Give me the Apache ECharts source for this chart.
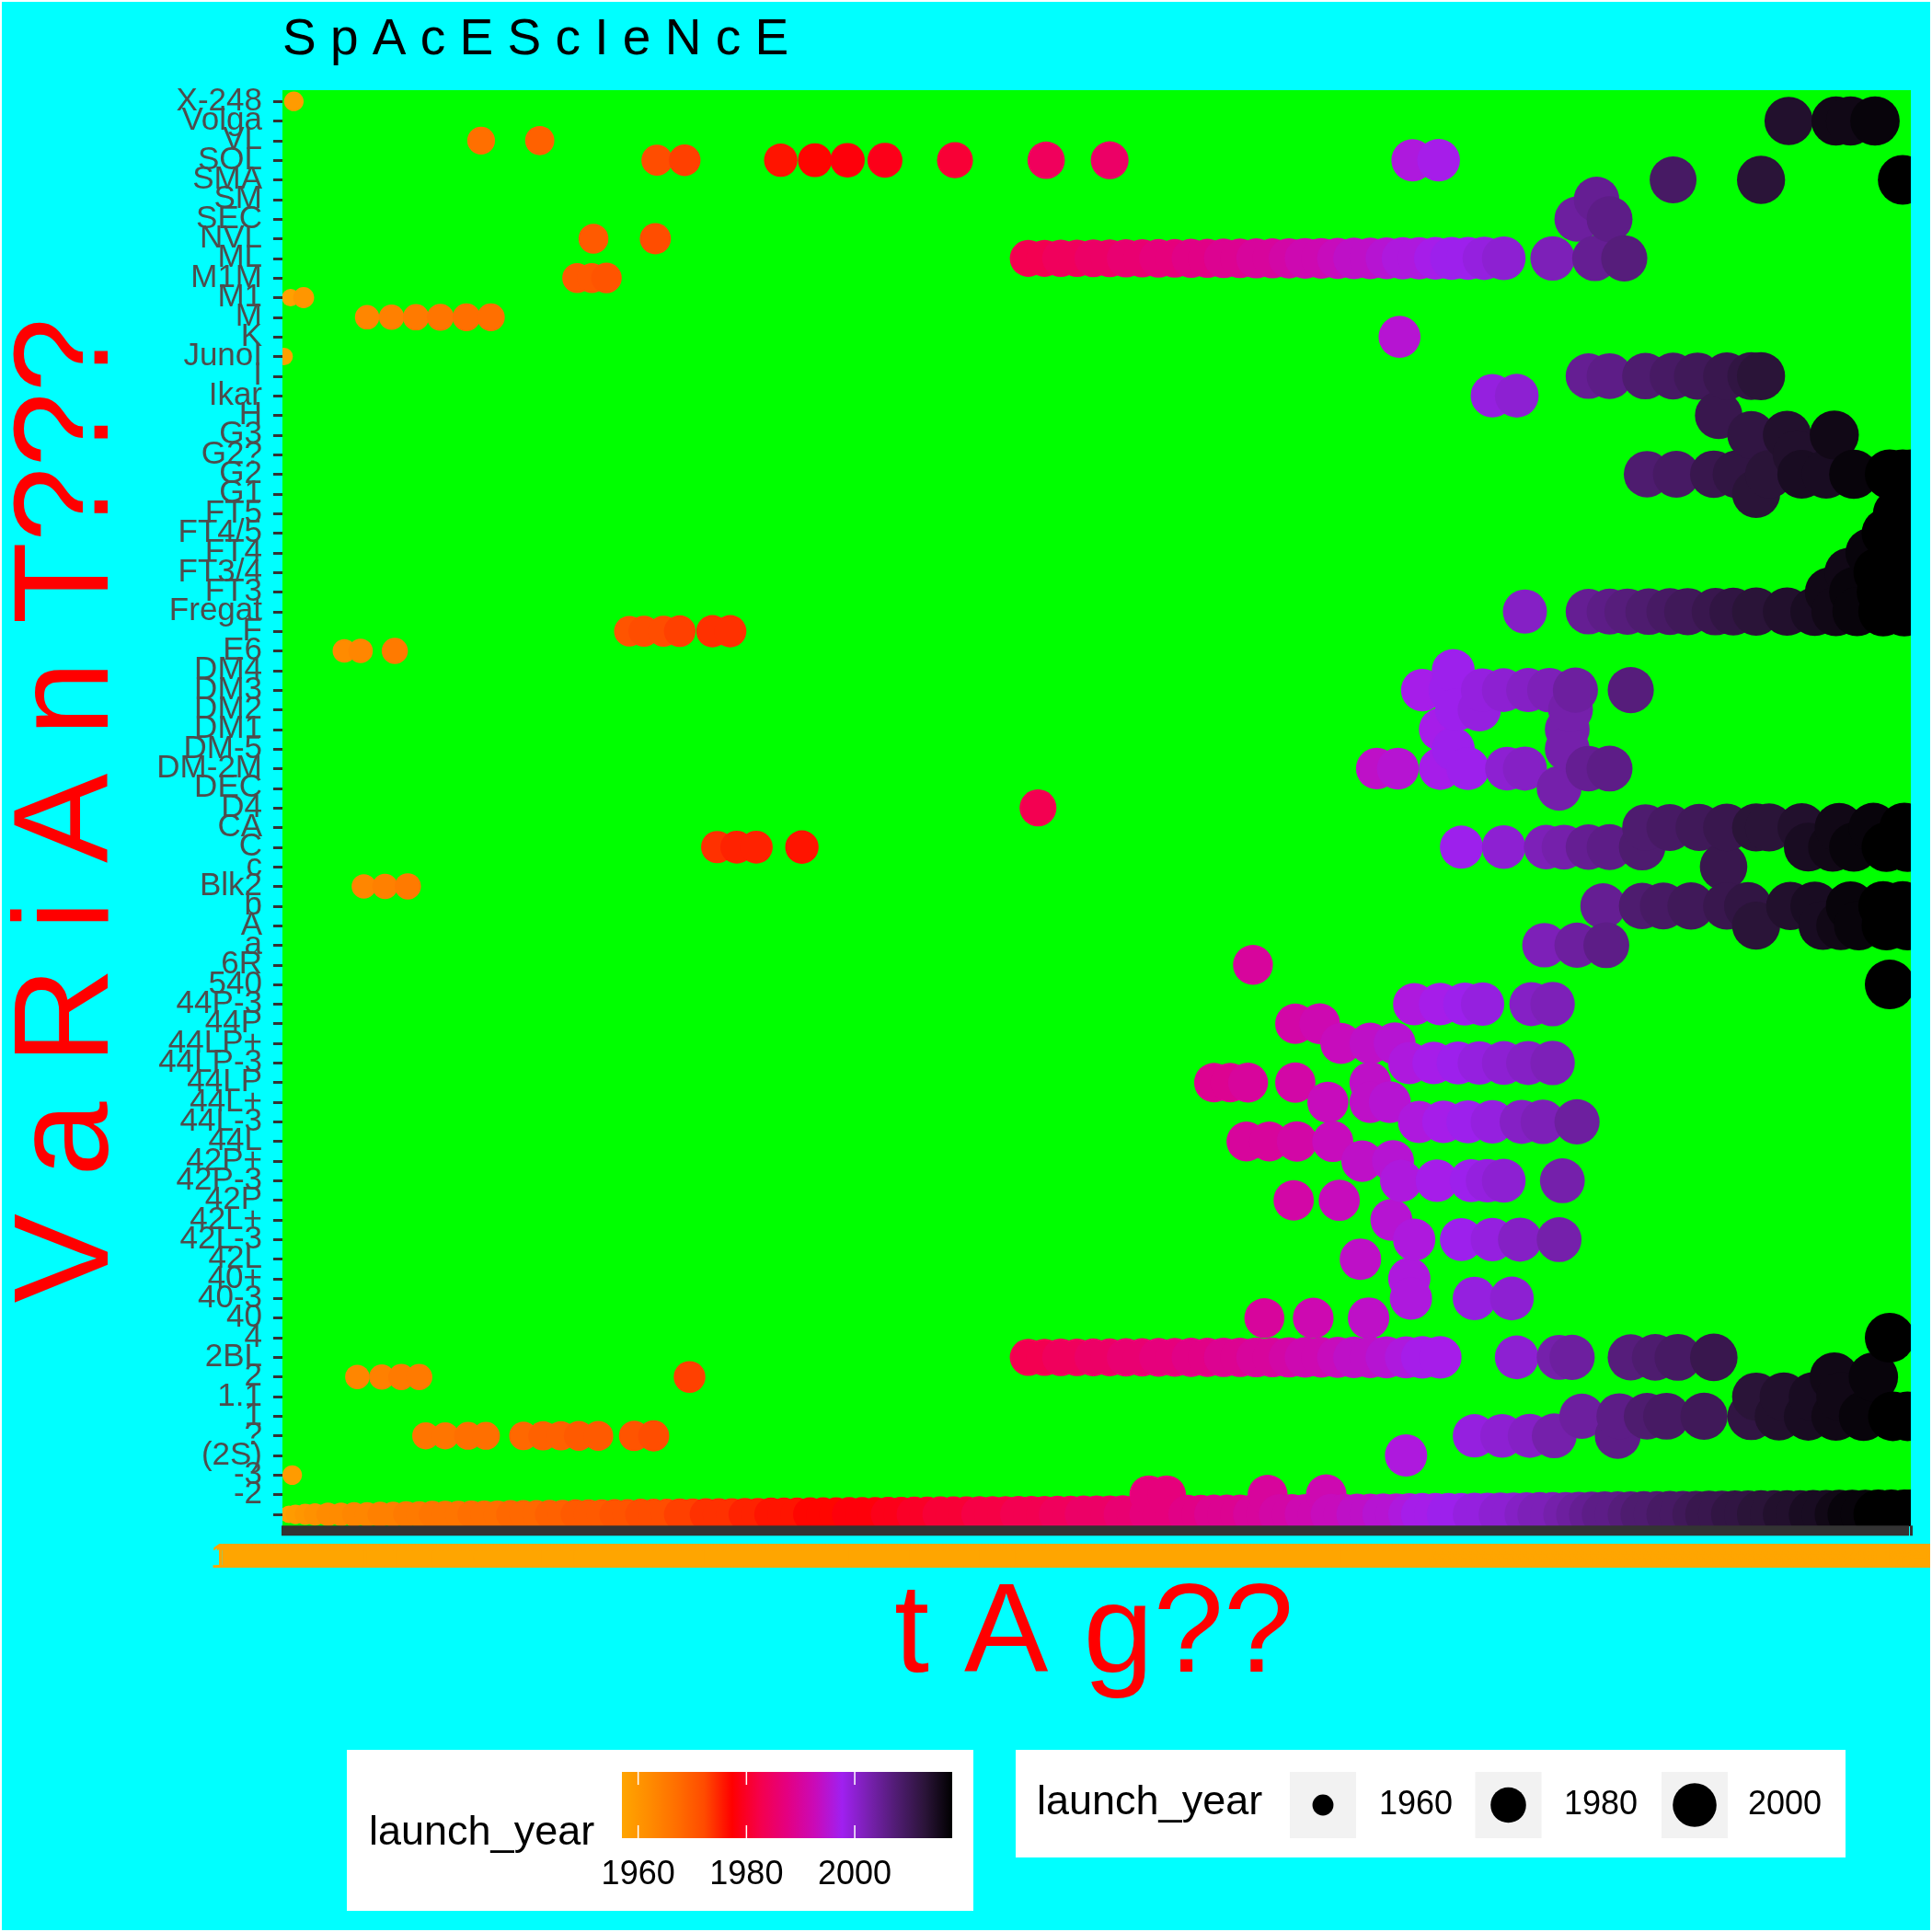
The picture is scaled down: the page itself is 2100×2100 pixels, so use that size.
<!DOCTYPE html>
<html><head><meta charset="utf-8">
<script src="https://cdn.jsdelivr.net/npm/echarts@6/dist/echarts.min.js"></script>
<style>html,body{margin:0;padding:0;background:#00FFFF}#c{width:2100px;height:2100px}</style>
</head><body><div id="c"></div>
<script>
const FONT = '"Liberation Sans", Arial, Helvetica, sans-serif';

// y categories (variant), bottom -> top
const variants = ["", "-2", "-3", "(2S)", "?", "1", "1.1", "2", "2BL", "4", "40", "40-3", "40+", "42L", "42L-3", "42L+", "42P", "42P-3", "42P+", "44L", "44L-3", "44L+", "44LP", "44LP-3", "44LP+", "44P", "44P-3", "540", "6R", "a", "A", "b", "Blk2", "c", "C", "CA", "D4", "DEC", "DM-2M", "DM-5", "DM1", "DM2", "DM3", "DM4", "E6", "F", "Fregat", "FT3", "FT3/4", "FT4", "FT4/5", "FT5", "G1", "G2", "G2?", "G3", "H", "Ikar", "I", "JunoI", "K", "M", "M1", "M1M", "ML", "NVL", "SEC", "SM", "SMA", "SOL", "VL", "Volga", "X-248"];

// colour scale (orange -> red -> purple -> black, Lab-interpolated stops)
const yearColors = ['#FFA500','#FF8B00','#FF6E00','#FF4B00','#FF0000','#F5004B','#E40081','#CA0AB7','#A020F0','#7720AE','#4F1C71','#2B1439','#000000'];
const yearMin = 1957, yearMax = 2018;
const legendYears = [1960, 1980, 2000];

// tag order (per-mille position along the x axis) at which each launch year starts
const tagYearStarts = [[1957,0],[1958,0.5],[1959,5.5],[1960,9.4],[1961,16.4],[1962,25.6],[1963,40.1],[1964,52.9],[1965,68.3],[1966,88.3],[1967,110.5],[1968,135.5],[1969,157.8],[1970,177.4],[1971,197.6],[1972,218.8],[1973,237.5],[1974,257.7],[1975,277],[1976,299.1],[1977,321.7],[1978,343.7],[1979,365.6],[1980,384.3],[1981,402.9],[1982,424.7],[1983,446],[1984,468.5],[1985,491.3],[1986,512.7],[1987,531],[1988,550.4],[1989,570.9],[1990,588.8],[1991,609.3],[1992,624.9],[1993,641.7],[1994,655.6],[1995,672.1],[1996,686.2],[1997,699.8],[1998,715.6],[1999,730.1],[2000,743.9],[2001,758.9],[2002,769.4],[2003,780.9],[2004,792],[2005,801.6],[2006,811.3],[2007,823],[2008,835],[2009,847.2],[2010,861],[2011,874.1],[2012,889],[2013,902.7],[2014,917],[2015,933.3],[2016,948.7],[2017,963.7],[2018,979.8]];

// [tag position, launch_year] for the blank variant ""
const blankRow = [[0,1957],[4,1958],[8,1959],[14,1960],[20,1961],[28,1962],[36,1962],[44,1963],[52,1963],[60,1964],[68,1964],[76,1965],[84,1965],[92,1966],[100,1966],[108,1966],[116,1967],[124,1967],[132,1967],[140,1968],[148,1968],[156,1968],[164,1969],[172,1969],[180,1970],[188,1970],[196,1970],[204,1971],[212,1971],[220,1972],[228,1972],[236,1972],[244,1973],[252,1973],[260,1974],[268,1974],[276,1974],[284,1975],[292,1975],[300,1976],[308,1976],[316,1976],[324,1977],[332,1977],[340,1977],[348,1978],[356,1978],[364,1978],[372,1979],[380,1979],[388,1980],[396,1980],[404,1981],[412,1981],[420,1981],[428,1982],[436,1982],[444,1982],[452,1983],[460,1983],[468,1983],[476,1984],[484,1984],[492,1985],[500,1985],[508,1985],[516,1986],[524,1986],[532,1987],[540,1987],[548,1987],[556,1988],[564,1988],[572,1989],[580,1989],[588,1989],[596,1990],[604,1990],[612,1991],[620,1991],[628,1992],[636,1992],[644,1993],[652,1993],[660,1994],[668,1994],[676,1995],[684,1995],[692,1996],[700,1997],[708,1997],[716,1998],[724,1998],[732,1999],[740,1999],[748,2000],[756,2000],[764,2001],[772,2002],[780,2002],[788,2003],[796,2004],[804,2005],[812,2006],[820,2006],[828,2007],[836,2008],[844,2008],[852,2009],[860,2009],[868,2010],[876,2011],[884,2011],[892,2012],[900,2012],[908,2013],[916,2013],[924,2014],[932,2014],[940,2015],[948,2015],[956,2016],[964,2017],[972,2017],[980,2018],[988,2018],[996,2018],[1000,2018]];

// upper variants: [variant, [[tag position, launch_year], ...]]
const rowsUpper = [
 ["X-248", [[7,1959]]],
 ["Volga", [[925,2014],[954,2016],[963,2016],[978,2017]]],
 ["VL", [[122,1967],[158,1969]]],
 ["SOL", [[230,1972],[247,1973],[306,1976],[327,1977],[347,1978],[370,1979],[413,1981],[469,1984],[508,1985],[694,1996],[710,1997]]],
 ["SMA", [[854,2009],[908,2013],[995,2018]]],
 ["SM", [[807,2005]]],
 ["SEC", [[795,2004],[815,2006]]],
 ["NVL", [[191,1970],[229,1972]]],
 ["ML", [[458,1983],[468,1983],[478,1984],[488,1984],[498,1985],[508,1985],[518,1986],[528,1986],[538,1987],[548,1987],[558,1988],[568,1988],[578,1989],[588,1989],[598,1990],[608,1990],[618,1991],[628,1992],[638,1992],[648,1993],[658,1994],[668,1994],[678,1995],[688,1996],[698,1996],[708,1997],[718,1998],[728,1998],[738,1999],[750,2000],[780,2002],[806,2005],[824,2007]]],
 ["M1M", [[181,1970],[190,1970],[199,1971]]],
 ["M1", [[5,1958],[13,1960]]],
 ["M", [[52,1963],[67,1964],[82,1965],[97,1966],[113,1967],[128,1967]]],
 ["K", [[686,1995]]],
 ["JunoI", [[1,1958]]],
 ["I", [[802,2005],[815,2006],[837,2008],[854,2009],[869,2010],[887,2011],[902,2012],[908,2013]]],
 ["Ikar", [[743,1999],[758,2000]]],
 ["H", [[882,2011]]],
 ["G3", [[902,2012],[924,2014],[953,2016]]],
 ["G2?", [[930,2014]]],
 ["G2", [[838,2008],[856,2009],[879,2011],[893,2012],[913,2013],[933,2015],[948,2015],[965,2017],[987,2018],[995,2018],[1000,2018]]],
 ["G1", [[905,2013]]],
 ["FT5", [[992,2018]]],
 ["FT4/5", [[985,2018]]],
 ["FT4", [[975,2017],[992,2018]]],
 ["FT3/4", [[962,2016],[980,2018],[998,2018]]],
 ["FT3", [[950,2016],[965,2017],[982,2018],[998,2018]]],
 ["Fregat", [[763,2001],[802,2005],[815,2006],[826,2007],[839,2008],[852,2009],[863,2010],[880,2011],[891,2012],[905,2013],[924,2014],[941,2015],[954,2016],[967,2017],[983,2018],[996,2018]]],
 ["F", [[213,1971],[222,1972],[234,1972],[244,1973],[264,1974],[275,1974]]],
 ["E6", [[38,1962],[48,1963],[69,1965]]]
];

// middle variants
const rowsMiddle = [
 ["DM4", [[719,1998]]],
 ["DM3", [[700,1997],[717,1998],[737,1999],[750,2000],[765,2001],[778,2002],[794,2004],[828,2007]]],
 ["DM2", [[721,1998],[735,1999],[791,2003]]],
 ["DM1", [[711,1997],[789,2003]]],
 ["DM-5", [[719,1998],[789,2003]]],
 ["DM-2M", [[672,1994],[685,1995],[711,1997],[728,1998],[752,2000],[763,2001],[802,2005],[815,2006]]],
 ["DEC", [[784,2003]]],
 ["D4", [[464,1983]]],
 ["CA", [[837,2008],[852,2009],[870,2010],[887,2011],[905,2013],[913,2013],[933,2014],[956,2016],[977,2017],[996,2018]]],
 ["C", [[267,1974],[279,1975],[291,1975],[319,1976],[724,1998],[750,2000],[776,2002],[787,2003],[802,2005],[815,2006],[835,2008],[937,2015],[952,2016],[965,2017],[985,2018],[998,2018]]],
 ["c", [[885,2011]]],
 ["Blk2", [[50,1963],[63,1964],[77,1965]]],
 ["b", [[811,2005],[835,2008],[848,2009],[865,2010],[887,2011],[900,2012],[926,2014],[941,2015],[963,2017],[983,2018],[995,2018]]],
 ["A", [[905,2013],[946,2015],[957,2016],[968,2017],[985,2018],[998,2018]]],
 ["a", [[775,2002],[795,2004],[813,2006]]],
 ["6R", [[596,1990]]],
 ["540", [[987,2018]]],
 ["44P-3", [[695,1996],[711,1997],[726,1998],[737,1999],[767,2001],[780,2002]]],
 ["44P", [[622,1991],[637,1992]]],
 ["44LP+", [[650,1993],[668,1994],[683,1995]]],
 ["44LP-3", [[692,1996],[707,1997],[722,1998],[735,1999],[750,2000],[765,2001],[780,2002]]],
 ["44LP", [[572,1989],[582,1989],[593,1990],[622,1991],[668,1994]]],
 ["44L+", [[642,1993],[668,1994],[680,1995]]],
 ["44L-3", [[698,1996],[713,1997],[728,1998],[743,1999],[761,2001],[774,2002],[795,2004]]],
 ["44L", [[592,1990],[606,1990],[623,1991],[645,1993]]]
];

// lower variants
const rowsLower = [
 ["42P+", [[663,1994],[682,1995]]],
 ["42P-3", [[687,1996],[709,1997],[730,1998],[740,1999],[750,2000],[786,2003]]],
 ["42P", [[621,1991],[649,1993]]],
 ["42L+", [[681,1995]]],
 ["42L-3", [[695,1996],[724,1998],[743,1999],[760,2001],[784,2003]]],
 ["42L", [[662,1994]]],
 ["40+", [[692,1996]]],
 ["40-3", [[693,1996],[732,1999],[755,2000]]],
 ["40", [[603,1990],[633,1992],[667,1994]]],
 ["4", [[987,2018]]],
 ["2BL", [[458,1983],[468,1983],[478,1984],[488,1984],[498,1985],[508,1985],[518,1986],[528,1986],[538,1987],[548,1987],[558,1988],[568,1988],[578,1989],[588,1989],[598,1990],[608,1990],[618,1991],[628,1992],[638,1992],[648,1993],[658,1994],[668,1994],[678,1995],[690,1996],[700,1997],[711,1997],[758,2000],[784,2003],[792,2004],[828,2007],[843,2008],[857,2009],[879,2011]]],
 ["2", [[46,1963],[61,1964],[73,1965],[84,1965],[250,1973],[953,2016],[977,2017]]],
 ["1.1", [[905,2013],[922,2014],[940,2015],[957,2016]]],
 ["1", [[798,2004],[821,2006],[838,2008],[850,2009],[873,2010],[902,2012],[919,2014],[937,2015],[954,2016],[971,2017],[989,2018],[998,2018]]],
 ["?", [[88,1966],[100,1966],[114,1967],[125,1967],[148,1968],[160,1969],[171,1969],[182,1970],[194,1970],[216,1971],[228,1972],[732,1999],[749,2000],[766,2001],[781,2003],[820,2006]]],
 ["(2S)", [[690,1996]]],
 ["-3", [[6,1959]]],
 ["-2", [[532,1987],[543,1987],[605,1990],[641,1992]]]
];

// ---- build series data ----
const data = [];
blankRow.forEach(([x, y]) => data.push([x, 0, y]));
[...rowsUpper, ...rowsMiddle, ...rowsLower].forEach(([v, pts]) => {
  const idx = variants.indexOf(v);
  pts.forEach(([x, y]) => data.push([x, idx, y]));
});
data.sort((a, b) => a[0] - b[0]);

const sizeOf = yr => 14 + 40 * Math.sqrt((yr - yearMin) / (yearMax - yearMin));

function tagLabel(v) {
  let yr = 1957, s = 0;
  for (const [y, p] of tagYearStarts) if (v >= p) { yr = y; s = p; }
  const n = Math.round((v - s) * 5.65) + 1;
  return yr + '-' + String(n).padStart(3, '0');
}

// ---- legends / titles (graphic) ----
const gfx = [];
gfx.push({type:'rect', shape:{x:0,y:0,width:2100,height:2100}, style:{fill:null, stroke:'#FFFFFF', lineWidth:4}, silent:true, z:100});
gfx.push({type:'rect', shape:{x:307,y:98,width:1770,height:1561}, style:{fill:'#00FF00'}, silent:true, z:-10});
// masks that clip the points to the panel (like the panel clip)
const CYAN = '#00FFFF';
gfx.push({type:'rect', shape:{x:2077,y:98,width:23,height:1561}, style:{fill:CYAN}, silent:true, z:5});
gfx.push({type:'rect', shape:{x:286,y:98,width:21,height:1582}, style:{fill:CYAN}, silent:true, z:5});
gfx.push({type:'rect', shape:{x:286,y:1659,width:1814,height:20}, style:{fill:CYAN}, silent:true, z:5});

const txt = (text, x, y, size, fill, align, extra) => Object.assign({
  type:'text', x, y, silent:true,
  style:{text, font: size + 'px ' + FONT, fill, align: align, verticalAlign:'middle', textAlign: align, textVerticalAlign:'middle'}
}, extra || {});
gfx.push(txt('S p A c E S c I e N c E', 307, 44, 55, '#000000', 'left'));
gfx.push(txt('V a R i A n T???', 77, 881, 146, '#FF0000', 'center', {rotation: Math.PI / 2}));
gfx.push(txt('t A g??', 1189, 1779, 137, '#FF0000', 'center'));

// colour legend
gfx.push({type:'rect', shape:{x:377,y:1902,width:681,height:175}, style:{fill:'#FFFFFF'}, silent:true});
gfx.push(txt('launch_year', 401, 1993, 45, '#000000', 'left'));
const cbX = 676, cbW = 359, cbY = 1926, cbH = 72;
gfx.push({type:'rect', shape:{x:cbX,y:cbY,width:cbW,height:cbH}, silent:true,
  style:{fill: new echarts.graphic.LinearGradient(0,0,1,0, yearColors.map((c,i)=>({offset:i/(yearColors.length-1), color:c})))}});
legendYears.forEach(yr => {
  const x = cbX + (yr - yearMin) / (yearMax - yearMin) * cbW;
  gfx.push({type:'line', shape:{x1:x,y1:cbY,x2:x,y2:cbY+14}, style:{stroke:'#FFFFFF', lineWidth:1.5}, silent:true});
  gfx.push({type:'line', shape:{x1:x,y1:cbY+cbH-14,x2:x,y2:cbY+cbH}, style:{stroke:'#FFFFFF', lineWidth:1.5}, silent:true});
  gfx.push(txt(String(yr), x, 2038, 36, '#000000', 'center'));
});

// size legend
gfx.push({type:'rect', shape:{x:1104,y:1902,width:902,height:117}, style:{fill:'#FFFFFF'}, silent:true});
gfx.push(txt('launch_year', 1127, 1960, 45, '#000000', 'left'));
const keyX = [1402, 1603.5, 1806];
const keyLabelX = [1499, 1700, 1900];
legendYears.forEach((yr, i) => {
  gfx.push({type:'rect', shape:{x:keyX[i],y:1926,width:72,height:72}, style:{fill:'#F2F2F2'}, silent:true});
  gfx.push({type:'circle', shape:{cx:keyX[i]+36, cy:1962, r:sizeOf(yr)/2}, style:{fill:'#000000'}, silent:true});
  gfx.push(txt(String(yr), keyLabelX[i], 1962, 36, '#000000', 'left'));
});

const chart = echarts.init(document.getElementById('c'), null, {renderer:'canvas', width:2100, height:2100});
chart.setOption({
  animation: false,
  backgroundColor: '#00FFFF',
  grid: {left:307, width:1770, top:99.5, height:1557.2, show:false, containLabel:false, outerBoundsMode:'none'},
  xAxis: {
    type:'value', min:0, max:1000, interval:1, offset:1.5, z:10,
    axisLine:{show:false}, splitLine:{show:false},
    axisTick:{show:true, length:11, lineStyle:{color:'#333333', width:3}},
    axisLabel:{show:true, color:'#FFA500', fontSize:37, fontFamily:FONT, margin:17, formatter: tagLabel, hideOverlap:false, showMinLabel:true, showMaxLabel:true}
  },
  yAxis: {
    type:'category', data: variants, boundaryGap:true, z:10,
    axisLine:{show:false}, splitLine:{show:false},
    axisTick:{show:true, alignWithLabel:true, interval:0, length:10, lineStyle:{color:'#333333', width:3}},
    axisLabel:{interval:0, color:'#4D4D4D', fontSize:35, fontFamily:FONT, margin:22}
  },
  visualMap: {show:false, type:'continuous', min:yearMin, max:yearMax, dimension:2, seriesIndex:0, inRange:{color: yearColors}},
  series: [{
    type:'scatter', data, symbol:'circle', clip:true, silent:true,
    symbolSize: v => sizeOf(v[2]),
    itemStyle:{opacity:1}
  }],
  graphic: gfx
});
</script></body></html>
